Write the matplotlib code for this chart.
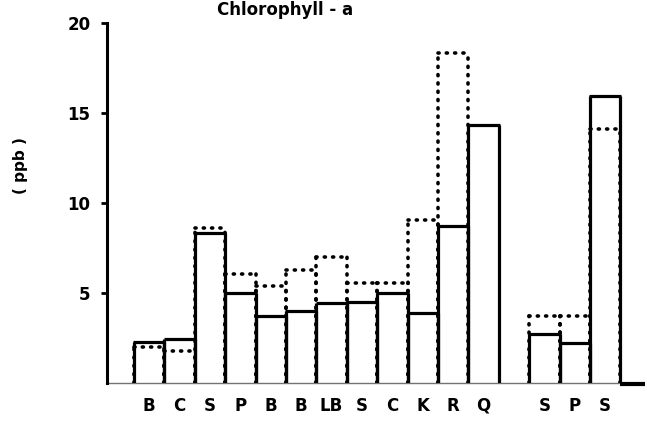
import matplotlib
matplotlib.use("Agg")
import matplotlib.pyplot as plt
import numpy as np

# ---- data ----
categories = ["B", "C", "S", "P", "B", "B", "LB", "S", "C", "K", "R", "Q", "S", "P", "S"]
positions = [0, 1, 2, 3, 4, 5, 6, 7, 8, 9, 10, 11, 13, 14, 15]
solid_values = [2.3, 2.43, 8.33, 5.0, 3.72, 4.0, 4.46, 4.5, 4.98, 3.87, 8.72, 14.33, 2.72, 2.24, 15.94]
dotted_values = [2.0, 1.8, 8.6, 6.05, 5.4, 6.3, 7.0, 5.55, 5.55, 9.05, 18.35, np.nan, 3.74, 3.74, 14.1]
yticks = [5, 10, 15, 20]
ytick_labels = ["5", "10", "15", "20"]

plt.rcParams['font.family'] = ['DejaVu Sans']
plt.rcParams['font.weight'] = 'bold'

W, H = 645, 421
fig = plt.figure(figsize=(W / 100, H / 100), dpi=100)
ax = fig.add_axes([107 / W, (H - 383) / H, (W - 107) / W, 360 / H])

bw = 1.0
pos = np.array(positions, dtype=float)
solid = np.array(solid_values)
dotted = np.array(dotted_values)

# dotted bars (outline without bottom)
m = ~np.isnan(dotted)
dstyle = dict(color='black', linewidth=2.6, linestyles=(0, (0.3, 2.0)), capstyle='round', zorder=2)
ax.hlines(dotted[m], pos[m] - bw / 2, pos[m] + bw / 2, **dstyle)
ax.vlines(pos[m] - bw / 2, 0, dotted[m], **dstyle)
ax.vlines(pos[m] + bw / 2, 0, dotted[m], **dstyle)

# solid bars (outline without bottom)
sstyle = dict(color='black', linewidth=2.3, zorder=3)
ax.hlines(solid, pos - bw / 2 - 0.03, pos + bw / 2 + 0.03, **sstyle)
ax.vlines(pos - bw / 2, 0, solid, **sstyle)
ax.vlines(pos + bw / 2, 0, solid, **sstyle)

xmin, xmax = -1.39, 16.31
ax.set_xlim(xmin, xmax)
ax.set_ylim(0, 20)

# baseline
ax.hlines(0, xmin, pos[-1] + bw / 2, color='0.45', linewidth=1.0, zorder=1, clip_on=False)
ax.hlines(-0.05, pos[-1] + bw / 2, xmax, color='black', linewidth=3.0, zorder=3, clip_on=False)

for s in ['top', 'right', 'bottom']:
    ax.spines[s].set_visible(False)
ax.spines['left'].set_linewidth(2.2)

ax.set_yticks(yticks)
ax.set_yticklabels(ytick_labels, fontsize=12, fontweight='bold')
ax.tick_params(axis='y', direction='out', length=4, width=2, pad=8)

ax.set_xticks(positions)
ax.set_xticklabels(categories, fontsize=12, fontweight='bold')
ax.tick_params(axis='x', length=0, pad=10)

fig.text(21 / W, 1 - 166 / H, "( ppb )", rotation=90, ha='center', va='center',
         fontsize=11, fontweight='bold')
fig.text(285 / W, 1 - 1 / H, "Chlorophyll - a", ha='center', va='top',
         fontsize=12, fontweight='bold')

fig.savefig("out.png", dpi=100)
